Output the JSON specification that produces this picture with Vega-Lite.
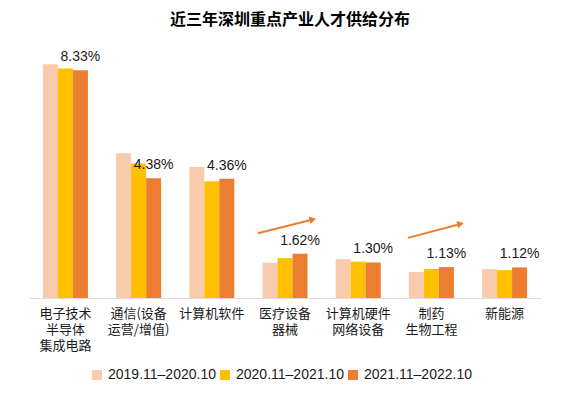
{
  "$schema": "https://vega.github.io/schema/vega-lite/v6.json",
  "width": 512,
  "height": 246,
  "autosize": {"type": "none"},
  "padding": {"left": 29, "top": 52, "right": 24, "bottom": 95},
  "background": "white",
  "config": {
    "view": {"stroke": null},
    "font": "Liberation Sans, Noto Sans CJK SC"
  },
  "title": {
    "text": "近三年深圳重点产业人才供给分布",
    "font": "Noto Sans CJK SC",
    "fontSize": 16,
    "fontWeight": "bold",
    "color": "#000000",
    "anchor": "middle",
    "dx": 5,
    "offset": 22
  },
  "datasets": {
    "bars": [
      {"industry": "电子技术\n半导体\n集成电路", "period": "2019.11–2020.10", "value": 0.0855},
      {"industry": "电子技术\n半导体\n集成电路", "period": "2020.11–2021.10", "value": 0.0840},
      {"industry": "电子技术\n半导体\n集成电路", "period": "2021.11–2022.10", "value": 0.0833},
      {"industry": "通信(设备\n运营/增值)", "period": "2019.11–2020.10", "value": 0.0530},
      {"industry": "通信(设备\n运营/增值)", "period": "2020.11–2021.10", "value": 0.0492},
      {"industry": "通信(设备\n运营/增值)", "period": "2021.11–2022.10", "value": 0.0438},
      {"industry": "计算机软件", "period": "2019.11–2020.10", "value": 0.0479},
      {"industry": "计算机软件", "period": "2020.11–2021.10", "value": 0.0427},
      {"industry": "计算机软件", "period": "2021.11–2022.10", "value": 0.0436},
      {"industry": "医疗设备\n器械", "period": "2019.11–2020.10", "value": 0.0129},
      {"industry": "医疗设备\n器械", "period": "2020.11–2021.10", "value": 0.0146},
      {"industry": "医疗设备\n器械", "period": "2021.11–2022.10", "value": 0.0162},
      {"industry": "计算机硬件\n网络设备", "period": "2019.11–2020.10", "value": 0.0142},
      {"industry": "计算机硬件\n网络设备", "period": "2020.11–2021.10", "value": 0.0133},
      {"industry": "计算机硬件\n网络设备", "period": "2021.11–2022.10", "value": 0.0130},
      {"industry": "制药\n生物工程", "period": "2019.11–2020.10", "value": 0.0095},
      {"industry": "制药\n生物工程", "period": "2020.11–2021.10", "value": 0.0106},
      {"industry": "制药\n生物工程", "period": "2021.11–2022.10", "value": 0.0113},
      {"industry": "新能源", "period": "2019.11–2020.10", "value": 0.0106},
      {"industry": "新能源", "period": "2020.11–2021.10", "value": 0.0102},
      {"industry": "新能源", "period": "2021.11–2022.10", "value": 0.0112}
    ],
    "arrows": [
      {"arrow": "a1", "pos": 3.13, "value": 0.0237, "end": false},
      {"arrow": "a1", "pos": 3.88, "value": 0.0287, "end": true},
      {"arrow": "a2", "pos": 5.18, "value": 0.0220, "end": false},
      {"arrow": "a2", "pos": 5.90, "value": 0.0271, "end": true}
    ]
  },
  "layer": [
    {
      "data": {"name": "bars"},
      "encoding": {
        "x": {
          "field": "industry", "type": "nominal", "sort": null,
          "scale": {"paddingInner": 0.385, "paddingOuter": 0.19},
          "axis": {
            "title": null, "labelAngle": 0, "ticks": false, "domainColor": "#d9d9d9", "domainWidth": 1,
            "labelExpr": "split(datum.label, '\\n')",
            "labelFont": "Noto Sans CJK SC", "labelFontSize": 13, "labelLineHeight": 16,
            "labelColor": "#1a1a1a", "labelPadding": 9, "labelBaseline": "top"
          }
        },
        "xOffset": {"field": "period", "type": "nominal", "sort": null},
        "y": {
          "field": "value", "type": "quantitative",
          "scale": {"domain": [0, 0.09]},
          "axis": null
        }
      },
      "layer": [
        {
          "mark": {"type": "bar"},
          "encoding": {
            "color": {
              "field": "period", "type": "nominal", "sort": null,
              "scale": {"range": ["#F8CBAD", "#FFC000", "#ED7D31"]},
              "legend": {
                "title": null, "orient": "none", "direction": "horizontal",
                "legendX": 61, "legendY": 316,
                "symbolType": "square", "symbolSize": 100, "symbolStrokeWidth": 0,
                "labelFontSize": 14, "labelColor": "#1a1a1a", "labelFont": "Liberation Sans",
                "columnPadding": 2, "symbolOffset": 0
              }
            }
          }
        },
        {
          "transform": [{"filter": "datum.period == '2021.11–2022.10'"}],
          "mark": {"type": "text", "baseline": "bottom", "dy": -6, "fontSize": 14, "color": "#1a1a1a", "font": "Liberation Sans"},
          "encoding": {
            "text": {"field": "value", "type": "quantitative", "format": ".2%"}
          }
        }
      ]
    },
    {
      "data": {"name": "arrows"},
      "encoding": {
        "x": {"field": "pos", "type": "quantitative", "scale": {"domain": [0, 7]}, "axis": null},
        "y": {"field": "value", "type": "quantitative"}
      },
      "layer": [
        {
          "mark": {"type": "line", "color": "#ED7D31", "strokeWidth": 2},
          "encoding": {"detail": {"field": "arrow"}}
        },
        {
          "transform": [{"filter": "datum.end"}],
          "mark": {"type": "point", "shape": "triangle-right", "filled": true, "color": "#ED7D31", "size": 60, "angle": 346, "opacity": 1}
        }
      ]
    }
  ],
  "resolve": {"scale": {"x": "independent"}}
}
